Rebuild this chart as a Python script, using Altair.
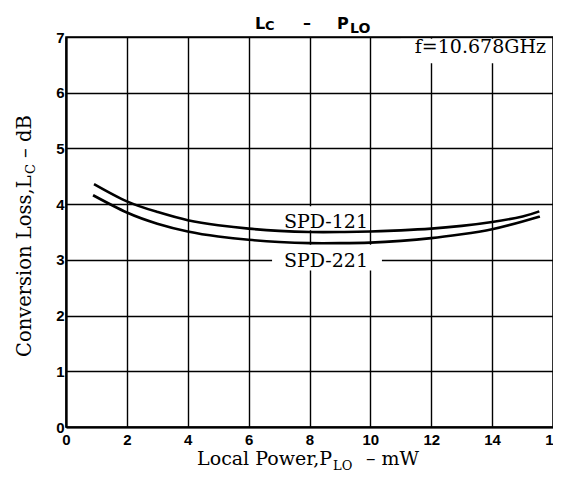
import altair as alt
import pandas as pd

# ---- data ----
series_names = ["SPD-121", "SPD-221"]
x_121 = [0.92, 2, 3, 4, 5, 6, 7, 8, 9, 10, 11, 12, 13, 14, 15, 15.55]
y_121 = [4.36, 4.05, 3.86, 3.71, 3.62, 3.56, 3.52, 3.50, 3.50, 3.51, 3.53, 3.56, 3.61, 3.68, 3.78, 3.87]
x_221 = [0.89, 2, 3, 4, 5, 6, 7, 8, 9, 10, 11, 12, 13, 14, 15, 15.57]
y_221 = [4.16, 3.85, 3.65, 3.51, 3.42, 3.36, 3.32, 3.30, 3.30, 3.31, 3.34, 3.39, 3.46, 3.55, 3.69, 3.78]
x_ticks = [0, 2, 4, 6, 8, 10, 12, 14, 16]
y_ticks = [0, 1, 2, 3, 4, 5, 6, 7]
freq_note = "f=10.678GHz"

rows = []
for name, xs, ys in [(series_names[0], x_121, y_121), (series_names[1], x_221, y_221)]:
    for i, (a, b) in enumerate(zip(xs, ys)):
        rows.append({"series": name, "x": a, "y": b, "order": i})
curves = pd.DataFrame(rows)

SERIF = "DejaVu Serif"
SANS = "DejaVu Sans"

xscale = alt.Scale(domain=[0, 16], nice=False, zero=False)
yscale = alt.Scale(domain=[0, 7], nice=False, zero=False)
xaxis = alt.Axis(values=x_ticks, title=None, grid=True, ticks=False, labelPadding=5,
                 labelFlush=False, labelOverlap=False, labelBound=False, format="d")
yaxis = alt.Axis(values=y_ticks, title=None, grid=True, ticks=False, labelPadding=2,
                 labelFlush=False, labelOverlap=False, format="d")

# white label backgrounds (annotation boxes)
boxes = pd.DataFrame([
    {"x": 11.0, "x2": 15.95, "y": 6.53, "y2": 6.97},
    {"x": 7.03, "x2": 9.99, "y": 3.53, "y2": 3.96},
    {"x": 6.77, "x2": 10.38, "y": 2.81, "y2": 3.27},
])
bg = alt.Chart(boxes).mark_rect(color="white").encode(
    x=alt.X("x:Q", scale=xscale, axis=xaxis),
    x2="x2:Q",
    y=alt.Y("y:Q", scale=yscale, axis=yaxis),
    y2="y2:Q",
)

lines = alt.Chart(curves).mark_line(interpolate="natural", strokeWidth=2.6, color="black").encode(
    x=alt.X("x:Q", scale=xscale, axis=xaxis),
    y=alt.Y("y:Q", scale=yscale, axis=yaxis),
    detail="series:N",
    order="order:Q",
)

labels = pd.DataFrame([
    {"x": 8.54, "y": 3.57, "t": series_names[0]},
    {"x": 8.54, "y": 2.87, "t": series_names[1]},
])
series_text = alt.Chart(labels).mark_text(font=SERIF, fontSize=19, align="center",
                                          baseline="alphabetic", color="black").encode(
    x=alt.X("x:Q", scale=xscale, axis=xaxis),
    y=alt.Y("y:Q", scale=yscale, axis=yaxis),
    text="t:N",
)

note = alt.Chart(pd.DataFrame([{"x": 15.77, "y": 6.71, "t": freq_note}])).mark_text(
    font=SERIF, fontSize=19, align="right", baseline="alphabetic", color="black").encode(
    x=alt.X("x:Q", scale=xscale, axis=xaxis),
    y=alt.Y("y:Q", scale=yscale, axis=yaxis),
    text="t:N",
)

one = pd.DataFrame({"k": [0]})


def piece(text, px, py, size, font, align="left", angle=0, weight="normal"):
    kw = dict(font=font, fontSize=size, align=align, baseline="alphabetic",
              color="black", fontWeight=weight)
    if angle:
        kw["angle"] = angle
    return alt.Chart(one).mark_text(**kw).encode(
        x=alt.value(px), y=alt.value(py), text=alt.value(text))


title_parts = [
    piece("L", 189, -8, 16, SANS, weight="bold"),
    piece("C", 199, -7, 13, SANS, weight="bold"),
    piece("\u2013", 241, -9, 16, SANS, align="center", weight="bold"),
    piece("P", 271, -8, 16, SANS, weight="bold"),
    piece("LO", 284, -4, 14, SANS, weight="bold"),
]
xtitle_parts = [
    piece("Local Power,P", 266, 428, 19, SERIF, align="right"),
    piece("LO", 267, 433, 13, SERIF),
    piece("\u2013 mW", 300, 428, 19, SERIF),
]
ytitle_parts = [
    piece("Conversion Loss,L", -35, 320, 19.5, SERIF, align="left", angle=270),
    piece("C", -31, 137, 13, SERIF, align="left", angle=270),
    piece("\u2013 dB", -35, 121, 19.5, SERIF, align="left", angle=270),
]

chart = alt.layer(bg, lines, series_text, note, *title_parts, *xtitle_parts, *ytitle_parts).properties(
    width=487,
    height=390,
    autosize=alt.AutoSizeParams(type="none"),
    padding={"left": 58, "top": 29, "right": 0, "bottom": 47},
).configure_view(
    stroke="black", strokeWidth=1.5
).configure_axis(
    gridColor="black", gridWidth=1.4, gridOpacity=1,
    domainColor="black", domainWidth=2.2,
    labelFont="Liberation Sans", labelFontWeight="bold", labelFontSize=15, labelColor="black",
)

chart.save("out.html", embed_options={"renderer": "svg", "actions": False})
